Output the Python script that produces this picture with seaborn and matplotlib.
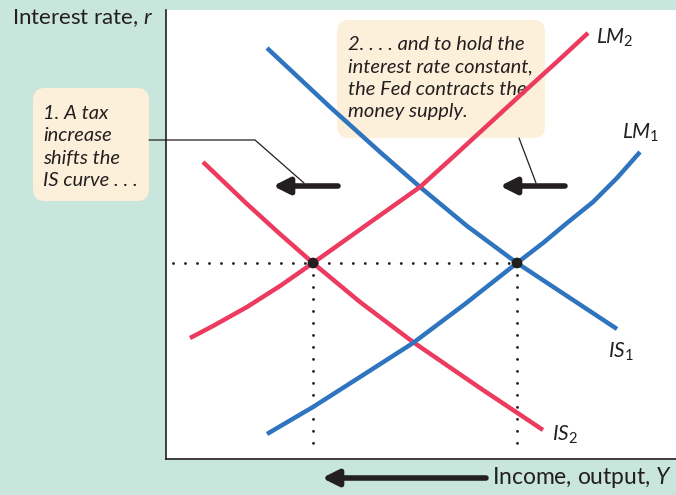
import pandas as pd
import matplotlib.pyplot as plt
import seaborn as sns
from matplotlib.patches import FancyBboxPatch

# curve points (x = income, y = interest rate, arbitrary units)
is1_x = [101, 164, 214, 254, 301, 351, 401, 451]
is1_y = [411, 352, 307, 272, 233, 196, 163, 130]
is2_x = [37, 81, 114, 147, 194, 247, 314, 377]
is2_y = [297, 255, 225, 196, 157, 117, 71, 29]
lm1_x = [101, 147, 194, 247, 299, 351, 377, 401, 427, 451, 474]
lm1_y = [25, 52, 82, 116, 155, 196, 216, 236, 257, 281, 307]
lm2_x = [24, 47, 81, 114, 147, 199, 254, 287, 324, 361, 394, 422]
lm2_y = [121, 133, 152, 173, 196, 233, 272, 302, 336, 370, 400, 426]

# equilibria (IS2/LM2 and IS1/LM1)
eq_x = [147, 351]
eq_y = [196, 196]

# shift arrows
shift_y = 273
shift_tail = [172, 399]
shift_head = [107, 334]

BLUE = '#2F74BF'
RED = '#EC3B5F'
GREEN = '#C9E6DC'
CREAM = '#FDF0DB'
INK = '#231F20'

curves = pd.concat([
    pd.DataFrame({'x': is1_x, 'y': is1_y, 'curve': 'IS1'}),
    pd.DataFrame({'x': is2_x, 'y': is2_y, 'curve': 'IS2'}),
    pd.DataFrame({'x': lm1_x, 'y': lm1_y, 'curve': 'LM1'}),
    pd.DataFrame({'x': lm2_x, 'y': lm2_y, 'curve': 'LM2'}),
])
palette = {'IS1': BLUE, 'LM1': BLUE, 'IS2': RED, 'LM2': RED}

sns.set_theme(style='white')
plt.rcParams['font.family'] = ['Lato', 'DejaVu Sans']
plt.rcParams['mathtext.fontset'] = 'custom'
plt.rcParams['mathtext.it'] = 'Lato:italic'
plt.rcParams['mathtext.rm'] = 'Lato'

fig = plt.figure(figsize=(6.76, 4.95), dpi=100, facecolor=GREEN)
ax = fig.add_axes([166 / 676, 36 / 495, 510 / 676, 449 / 495])
ax.set_facecolor('white')

# note boxes (under the curves)
ax.add_patch(FancyBboxPatch((-133, 258), 116, 113, boxstyle='round,pad=0,rounding_size=12',
                            fc=CREAM, ec='none', clip_on=False, zorder=1))
ax.add_patch(FancyBboxPatch((171, 321), 208, 118, boxstyle='round,pad=0,rounding_size=12',
                            fc=CREAM, ec='none', clip_on=False, zorder=1))
note = dict(style='italic', fontsize=14.5, color=INK, va='center', ha='left',
            linespacing=1.36, zorder=2)
ax.text(-123, 312, '1. A tax\nincrease\nshifts the\nIS curve . . .', **note)
ax.text(182, 381, '2. . . . and to hold the\ninterest rate constant,\nthe Fed contracts the\nmoney supply.', **note)

# leader lines
ax.plot([-17, 89, 138], [319, 319, 276], color=INK, lw=0.9, clip_on=False, zorder=2)
ax.plot([353, 370], [321, 276], color=INK, lw=0.9, zorder=2)

# dotted guides
ax.plot([7, eq_x[1]], [eq_y[1], eq_y[1]], color=INK, lw=2.1, ls=(0, (0.01, 4.1)),
        dash_capstyle='round', zorder=2)
for x in eq_x:
    ax.plot([x, x], [eq_y[0], 16], color=INK, lw=2.1, ls=(0, (0.01, 4.1)),
            dash_capstyle='round', zorder=2)

sns.lineplot(data=curves, x='x', y='y', hue='curve', palette=palette, units='curve',
             estimator=None, sort=False, lw=3.2, legend=False, ax=ax, zorder=3)
for ln in ax.lines[-4:]:
    ln.set_solid_capstyle('butt')
    ln.set_solid_joinstyle('round')

sns.scatterplot(x=eq_x, y=eq_y, color=INK, s=60, edgecolor='none', ax=ax, zorder=5)

for t, h in zip(shift_tail, shift_head):
    ax.annotate('', xy=(h, shift_y), xytext=(t, shift_y),
                arrowprops=dict(arrowstyle='-|>,head_length=0.6,head_width=0.3', lw=4,
                                color=INK, mutation_scale=16, shrinkA=0, shrinkB=0),
                zorder=4)

# curve labels
lab = dict(fontsize=15, color=INK, va='center', ha='left')
ax.text(430, 421, r'$LM_{\mathrm{2}}$', **lab)
ax.text(456, 326, r'$LM_{\mathrm{1}}$', **lab)
ax.text(442, 107, r'$IS_{\mathrm{1}}$', **lab)
ax.text(386, 24, r'$IS_{\mathrm{2}}$', **lab)

# axis titles
ax.text(-154, 441, r'Interest rate, $r$', fontsize=16, color=INK, va='center', ha='left')
ax.text(326, -19, r'Income, output, $Y$', fontsize=16.5, color=INK, va='center', ha='left')
ax.annotate('', xy=(156, -19), xytext=(320, -19), annotation_clip=False,
            arrowprops=dict(arrowstyle='-|>,head_length=0.6,head_width=0.3', lw=4,
                            color=INK, mutation_scale=16, shrinkA=0, shrinkB=0))

ax.set_xlim(0, 510)
ax.set_ylim(0, 449)
ax.set_xticks([])
ax.set_yticks([])
ax.set_xlabel('')
ax.set_ylabel('')
sns.despine(ax=ax)
for side in ['left', 'bottom']:
    ax.spines[side].set_color(INK)
    ax.spines[side].set_linewidth(1.2)

fig.savefig('out.png', dpi=100, facecolor=GREEN)
